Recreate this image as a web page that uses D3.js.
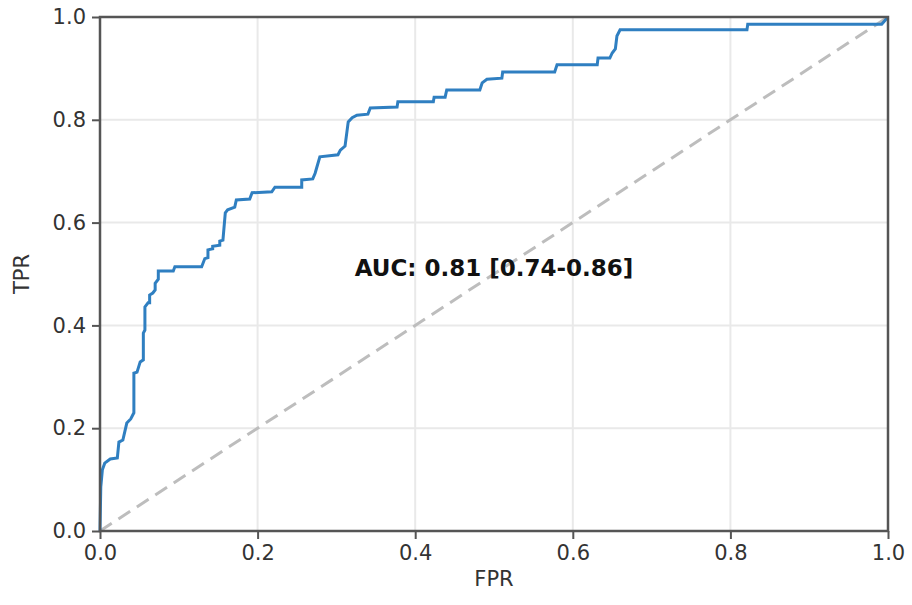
<!DOCTYPE html>
<html>
<head>
<meta charset="utf-8">
<script src="https://cdn.jsdelivr.net/npm/d3@7"></script>
<style>
  body { margin: 0; background: #fff; }
  text { font-family: "DejaVu Sans", sans-serif; }
</style>
</head>
<body>
<div id="chart"></div>
<script>
const width = 912;
const height = 605;
const margin = {top: 17, right: 24, bottom: 74, left: 100};

// ROC curve vertices
const fpr = [0, 0.001, 0.003, 0.006, 0.013, 0.022, 0.024, 0.029, 0.034, 0.039, 0.043, 0.043,
  0.047, 0.051, 0.055, 0.055, 0.057, 0.057, 0.061, 0.063, 0.063, 0.067, 0.070, 0.070, 0.074,
  0.074, 0.093, 0.095, 0.129, 0.133, 0.137, 0.137, 0.143, 0.143, 0.152, 0.152, 0.156, 0.159,
  0.162, 0.171, 0.173, 0.190, 0.193, 0.218, 0.222, 0.256, 0.256, 0.270, 0.273, 0.276, 0.279,
  0.302, 0.305, 0.311, 0.315, 0.320, 0.326, 0.340, 0.343, 0.377, 0.378, 0.423, 0.424, 0.438,
  0.440, 0.482, 0.485, 0.491, 0.510, 0.511, 0.577, 0.580, 0.631, 0.632, 0.647, 0.650, 0.654,
  0.656, 0.660, 0.821, 0.822, 0.992, 1.0];
const tpr = [0, 0.086, 0.119, 0.132, 0.140, 0.142, 0.173, 0.177, 0.210, 0.218, 0.230, 0.307,
  0.309, 0.329, 0.333, 0.385, 0.391, 0.436, 0.444, 0.444, 0.459, 0.463, 0.469, 0.482, 0.490,
  0.506, 0.506, 0.514, 0.514, 0.530, 0.532, 0.547, 0.549, 0.554, 0.556, 0.564, 0.566, 0.619,
  0.625, 0.630, 0.644, 0.646, 0.658, 0.660, 0.669, 0.669, 0.683, 0.685, 0.696, 0.712, 0.728,
  0.732, 0.741, 0.749, 0.796, 0.804, 0.809, 0.811, 0.823, 0.825, 0.835, 0.835, 0.844, 0.844,
  0.858, 0.858, 0.872, 0.879, 0.881, 0.893, 0.893, 0.907, 0.907, 0.920, 0.920, 0.930, 0.938,
  0.963, 0.975, 0.975, 0.986, 0.986, 1.0];

const ticks = [0, 0.2, 0.4, 0.6, 0.8, 1.0];
const aucLabel = "AUC: 0.81 [0.74-0.86]";

const svg = d3.select("#chart")
    .append("svg")
        .attr("width", width)
        .attr("height", height);

const x = d3.scaleLinear().domain([0, 1]).range([margin.left, width - margin.right]);
const y = d3.scaleLinear().domain([0, 1]).range([height - margin.bottom, margin.top]);

// grid
svg.append("g")
    .selectAll("line")
    .data(ticks)
    .join("line")
        .attr("x1", d => x(d)).attr("x2", d => x(d))
        .attr("y1", y(0)).attr("y2", y(1))
        .attr("stroke", "#e9e9e9")
        .attr("stroke-width", 2);
svg.append("g")
    .selectAll("line")
    .data(ticks)
    .join("line")
        .attr("y1", d => y(d)).attr("y2", d => y(d))
        .attr("x1", x(0)).attr("x2", x(1))
        .attr("stroke", "#e9e9e9")
        .attr("stroke-width", 2);

// chance diagonal
svg.append("line")
    .attr("x1", x(0)).attr("y1", y(0))
    .attr("x2", x(1)).attr("y2", y(1))
    .attr("stroke", "#bdbdbd")
    .attr("stroke-width", 3)
    .attr("stroke-dasharray", "14,8");

// roc curve
const pts = fpr.map((f, i) => [f, tpr[i]]);
svg.append("path")
    .datum(pts)
    .attr("fill", "none")
    .attr("stroke", "#2f7fc1")
    .attr("stroke-width", 3)
    .attr("d", d3.line().x(d => x(d[0])).y(d => y(d[1])));

// axes
const xAxis = svg.append("g")
    .attr("transform", `translate(0,${y(0)})`)
    .call(d3.axisBottom(x).tickValues(ticks).tickFormat(d3.format(".1f")).tickSize(8).tickPadding(6));
const yAxis = svg.append("g")
    .attr("transform", `translate(${x(0)},0)`)
    .call(d3.axisLeft(y).tickValues(ticks).tickFormat(d3.format(".1f")).tickSize(8).tickPadding(6));

[xAxis, yAxis].forEach(g => {
    g.select(".domain").remove();
    g.selectAll(".tick line").attr("stroke", "#555").attr("stroke-width", 2);
    g.selectAll(".tick text")
        .attr("font-size", 21)
        .attr("fill", "#333")
        .style("font-family", "DejaVu Sans");
});

// frame
svg.append("rect")
    .attr("x", x(0)).attr("y", y(1))
    .attr("width", x(1) - x(0)).attr("height", y(0) - y(1))
    .attr("fill", "none")
    .attr("stroke", "#555")
    .attr("stroke-width", 2.5);

// labels
svg.append("text")
    .attr("x", (x(0) + x(1)) / 2)
    .attr("y", 586)
    .attr("text-anchor", "middle")
    .attr("font-size", 21)
    .attr("fill", "#333")
    .text("FPR");

svg.append("text")
    .attr("transform", `translate(29,${(y(0) + y(1)) / 2}) rotate(-90)`)
    .attr("text-anchor", "middle")
    .attr("font-size", 21)
    .attr("fill", "#333")
    .text("TPR");

svg.append("text")
    .attr("x", x(0.5))
    .attr("y", 276)
    .attr("text-anchor", "middle")
    .attr("font-size", 23)
    .attr("font-weight", "bold")
    .attr("fill", "#111")
    .text(aucLabel);
</script>
</body>
</html>
